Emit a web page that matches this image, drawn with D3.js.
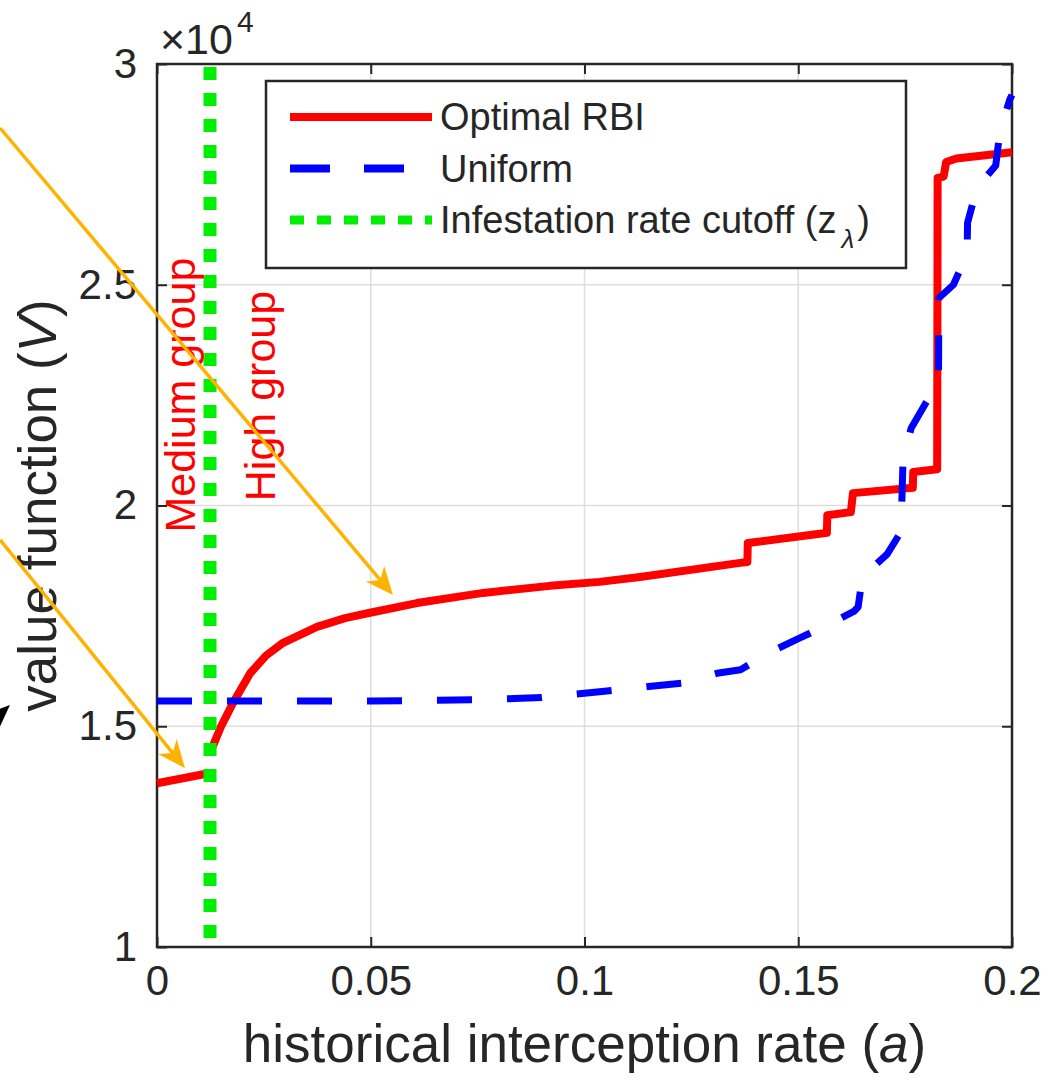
<!DOCTYPE html>
<html>
<head>
<meta charset="utf-8">
<script src="https://cdn.jsdelivr.net/npm/d3@7"></script>
<style>
  body { margin: 0; background: #fff; }
  svg text { font-family: "Liberation Sans", Arial, sans-serif; }
</style>
</head>
<body>
<svg id="chart" width="1052" height="1088"></svg>
<script>
// DATA (a = historical interception rate, v = value function x 10^4)
const xTicks = [0, 0.05, 0.1, 0.15, 0.2];
const yTicks = [1, 1.5, 2, 2.5, 3];
const cutoff = 0.0124; // z_lambda

// optimal RBI, below and above the cutoff
const rbiLow = [[0, 1.371], [0.0124, 1.394]];
const rbiHigh = [
  [0.0129, 1.451], [0.0150, 1.500], [0.0178, 1.553], [0.0218, 1.620], [0.0255, 1.660],
  [0.0295, 1.689], [0.0374, 1.725], [0.0440, 1.745], [0.0498, 1.757], [0.0608, 1.779],
  [0.0763, 1.802], [0.0919, 1.818], [0.1035, 1.827], [0.1130, 1.838], [0.1364, 1.870],
  [0.1381, 1.872], [0.1382, 1.915], [0.1550, 1.936], [0.1567, 1.938], [0.1568, 1.978],
  [0.1623, 1.985], [0.1628, 2.028], [0.1768, 2.040], [0.1769, 2.076], [0.1825, 2.082],
  [0.1826, 2.742], [0.1840, 2.745], [0.1846, 2.778], [0.1870, 2.786], [0.2, 2.800]
];
const uniform = [
  [0, 1.557], [0.05, 1.557], [0.075, 1.560], [0.09, 1.565], [0.1035, 1.578],
  [0.115, 1.590], [0.123, 1.598], [0.131, 1.620], [0.1365, 1.628], [0.1386, 1.640],
  [0.143, 1.666], [0.1504, 1.700], [0.1569, 1.730], [0.1630, 1.760], [0.1640, 1.770],
  [0.1650, 1.838], [0.1708, 1.890], [0.1740, 1.940], [0.1743, 2.030], [0.1745, 2.100],
  [0.1764, 2.175], [0.1797, 2.230], [0.1828, 2.280], [0.1829, 2.470], [0.1863, 2.500],
  [0.1895, 2.570], [0.1896, 2.640], [0.1918, 2.720], [0.1962, 2.770], [0.1972, 2.850],
  [0.1995, 2.920], [0.2, 2.930]
];

const legendItems = [
  {label: "Optimal RBI", color: "#ff0000", dash: null, width: 8},
  {label: "Uniform", color: "#0000ff", dash: "40,34", width: 8},
  {label: "Infestation rate cutoff (z", sub: "\u03bb", color: "#00ee00", dash: "14,13", width: 9}
];

// annotations, in data coordinates
const groupLabels = [
  {text: "Medium group", a: 0.0089, v: 2.25},
  {text: "High group", a: 0.0276, v: 2.248}
];
const arrows = [
  {from: [-0.0367, 2.855], to: [0.0552, 1.797]},
  {from: [-0.0367, 1.922], to: [0.00655, 1.405]}
];

const INK = "#262626";
const ORANGE = "#ffb300";

let svg = d3.select("#chart");

let x = d3.scaleLinear().domain([0, 0.2]).range([157, 1012]);
let y = d3.scaleLinear().domain([1, 3]).range([947, 64]);

// grid
let grid = svg.append("g").attr("stroke", "#dedede").attr("stroke-width", 1.5);
grid.selectAll(".gx").data(xTicks.slice(1, -1)).enter().append("line")
  .attr("x1", d => x(d)).attr("x2", d => x(d))
  .attr("y1", y(1)).attr("y2", y(3));
grid.selectAll(".gy").data(yTicks.slice(1, -1)).enter().append("line")
  .attr("y1", d => y(d)).attr("y2", d => y(d))
  .attr("x1", x(0)).attr("x2", x(0.2));

// axes, matlab style: inward ticks on all four sides
function styleAxis(g) {
  g.select(".domain").remove();
  g.selectAll(".tick line").attr("stroke", INK).attr("stroke-width", 2);
  g.selectAll(".tick text").attr("fill", INK).style("font-size", "42px");
}
svg.append("g").attr("transform", `translate(0,${y(1)})`)
  .call(d3.axisBottom(x).tickValues(xTicks).tickFormat(d => String(d)).tickSizeInner(-10).tickSizeOuter(0).tickPadding(18))
  .call(styleAxis);
svg.append("g").attr("transform", `translate(${x(0)},0)`)
  .call(d3.axisLeft(y).tickValues(yTicks).tickFormat(d => String(d)).tickSizeInner(-10).tickSizeOuter(0).tickPadding(20))
  .call(styleAxis);
svg.append("g").attr("transform", `translate(0,${y(3)})`)
  .call(d3.axisTop(x).tickValues(xTicks).tickFormat("").tickSizeInner(-10).tickSizeOuter(0))
  .call(styleAxis);
svg.append("g").attr("transform", `translate(${x(0.2)},0)`)
  .call(d3.axisRight(y).tickValues(yTicks).tickFormat("").tickSizeInner(-10).tickSizeOuter(0))
  .call(styleAxis);

svg.append("rect")
  .attr("x", x(0)).attr("y", y(3))
  .attr("width", x(0.2) - x(0)).attr("height", y(1) - y(3))
  .attr("fill", "none").attr("stroke", INK).attr("stroke-width", 2.5);

// exponent
let expo = svg.append("text").attr("x", 160).attr("y", 54).attr("fill", INK).style("font-size", "43px");
expo.append("tspan").text("\u00d710");
expo.append("tspan").attr("dx", 4).attr("dy", -22).style("font-size", "30px").text("4");

// axis labels
let xl = svg.append("text").attr("x", (x(0) + x(0.2)) / 2).attr("y", 1062)
  .attr("text-anchor", "middle").attr("fill", INK).style("font-size", "53px");
xl.append("tspan").text("historical interception rate (");
xl.append("tspan").style("font-style", "italic").text("a");
xl.append("tspan").text(")");

let yl = svg.append("text").attr("transform", `translate(56,${(y(1) + y(3)) / 2}) rotate(-90)`)
  .attr("text-anchor", "middle").attr("fill", INK).style("font-size", "53px");
yl.append("tspan").text("value function (");
yl.append("tspan").style("font-style", "italic").text("V");
yl.append("tspan").text(")");

// series
let line = d3.line().x(d => x(d[0])).y(d => y(d[1]));

[rbiLow, rbiHigh].forEach(seg => {
  svg.append("path").datum(seg).attr("d", line)
    .attr("fill", "none").attr("stroke", "#ff0000").attr("stroke-width", 8)
    .attr("stroke-linejoin", "round");
});

svg.append("path").datum(uniform).attr("d", line)
  .attr("fill", "none").attr("stroke", "#0000ff").attr("stroke-width", 7)
  .attr("stroke-dasharray", "35,35").attr("stroke-linejoin", "round");

svg.append("path").datum([[cutoff, 3], [cutoff, 1]]).attr("d", line)
  .attr("fill", "none").attr("stroke", "#00ee00").attr("stroke-width", 13)
  .attr("stroke-dasharray", "13,13").attr("stroke-dashoffset", -3);

// group labels
svg.selectAll(".grp").data(groupLabels).enter().append("text")
  .attr("class", "grp")
  .attr("transform", d => `translate(${x(d.a)},${y(d.v)}) rotate(-90)`)
  .attr("text-anchor", "middle").attr("fill", "#ff0000")
  .style("font-size", "43px")
  .text(d => d.text);

// legend
let lg = svg.append("g").attr("transform", "translate(266,81)");
lg.append("rect").attr("width", 640).attr("height", 187)
  .attr("fill", "#fff").attr("stroke", INK).attr("stroke-width", 2.5);
let rowY = d3.scalePoint().domain(legendItems.map(d => d.label)).range([36, 139]);
let row = lg.selectAll(".row").data(legendItems).enter().append("g")
  .attr("transform", d => `translate(0,${rowY(d.label)})`);
row.append("line").attr("x1", 24).attr("x2", 166)
  .attr("stroke", d => d.color).attr("stroke-width", d => d.width)
  .attr("stroke-dasharray", d => d.dash);
let lt = row.append("text").attr("x", 174).attr("y", 13).attr("fill", INK).style("font-size", "38px");
lt.append("tspan").text(d => d.label);
lt.filter(d => d.sub).append("tspan").attr("dx", 5).attr("dy", 15)
  .style("font-size", "26px").style("font-style", "italic").text(d => d.sub);
lt.filter(d => d.sub).append("tspan").attr("dx", 3).attr("dy", -15).text(")");

// orange arrows
function arrowHead(g, tip, ang, color, len, half) {
  let c = Math.cos(ang), s = Math.sin(ang);
  let pt = (u, w) => [tip[0] - u * c - w * s, tip[1] - u * s + w * c];
  let pts = [tip, pt(len, half), pt(len * 0.7, 0), pt(len, -half)];
  g.append("path").attr("d", "M" + pts.map(p => p.join(",")).join("L") + "Z").attr("fill", color);
}
arrows.forEach(a => {
  let p0 = [x(a.from[0]), y(a.from[1])];
  let p1 = [x(a.to[0]), y(a.to[1])];
  let ang = Math.atan2(p1[1] - p0[1], p1[0] - p0[0]);
  svg.append("line").attr("x1", p0[0]).attr("y1", p0[1])
    .attr("x2", p1[0] - 14 * Math.cos(ang)).attr("y2", p1[1] - 14 * Math.sin(ang))
    .attr("stroke", ORANGE).attr("stroke-width", 3.5);
  arrowHead(svg, p1, ang, ORANGE, 28, 12);
});

// black arrow tip cut off at the left edge
arrowHead(svg, [x(-0.0344), y(1.548)], -0.75, "#000", 22, 9);
</script>
</body>
</html>
